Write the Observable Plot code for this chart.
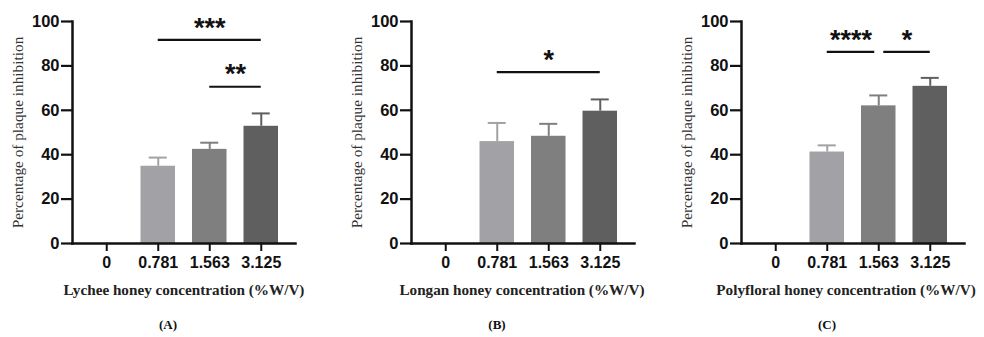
<!DOCTYPE html>
<html>
<head>
<meta charset="utf-8">
<script src="https://cdn.jsdelivr.net/npm/d3@7"></script>
<script src="https://cdn.jsdelivr.net/npm/@observablehq/plot@0.6"></script>
<style>
  html, body { margin: 0; padding: 0; background: #fff; }
  #wrap { position: relative; width: 984px; height: 337px; overflow: hidden; background: #fff; }
  .panel { position: absolute; top: 0; }
  .panel svg { display: block; }
  .xlab { position: absolute; white-space: nowrap; transform: translate(-50%, -50%);
          font-family: "Liberation Serif", "Times New Roman", serif; font-weight: bold; font-size: 15.2px; color: #222; }
  .cap { position: absolute; white-space: nowrap; transform: translate(-50%, -50%);
         font-family: "Liberation Serif", "Times New Roman", serif; font-weight: bold; font-size: 13px; color: #111; }
</style>
</head>
<body>
<div id="wrap"></div>
<script>
// ---- data ----
const categories = ["0", "0.781", "1.563", "3.125"];
const yTicks = [0, 20, 40, 60, 80, 100];
const barColors = ["#ffffff", "#a2a2a6", "#7f7f7f", "#5f5f5f"];

const lycheeMean = [0, 34.8, 42.4, 52.8];
const lycheeErr  = [0, 3.9, 3.0, 5.8];
const longanMean = [0, 45.9, 48.3, 59.6];
const longanErr  = [0, 8.4, 5.6, 5.3];
const polyMean   = [0, 41.2, 62.0, 70.8];
const polyErr    = [0, 3.0, 4.7, 3.8];

const lycheeSig = [
  {from: "0.781", to: "3.125", y: 91.7, label: "***", gapL: 0, gapR: 0},
  {from: "1.563", to: "3.125", y: 70.6, label: "**", gapL: 0, gapR: 0}
];
const longanSig = [
  {from: "0.781", to: "3.125", y: 77.2, label: "*", gapL: 0, gapR: 0}
];
const polySig = [
  {from: "0.781", to: "1.563", y: 86.3, label: "****", gapL: 0, gapR: 4},
  {from: "1.563", to: "3.125", y: 86.3, label: "*", gapL: 5, gapR: 0}
];

const yLabel = "Percentage of plaque inhibition";
const xLabels = ["Lychee honey concentration (%W/V)", "Longan honey concentration (%W/V)", "Polyfloral honey concentration (%W/V)"];
const captions = ["(A)", "(B)", "(C)"];

// ---- layout ----
const panels = [
  {mean: lycheeMean, err: lycheeErr, sig: lycheeSig, left: 0,   xlabCenter: 184, capCenter: 168},
  {mean: longanMean, err: longanErr, sig: longanSig, left: 339, xlabCenter: 522, capCenter: 497},
  {mean: polyMean,   err: polyErr,   sig: polySig,   left: 669, xlabCenter: 846, capCenter: 827}
];

const W = 310, H = 275, mL = 72, mR = 15, mT = 21, mB = 32;
const padIn = 0.33, padOut = 0.33;
const plotW = W - mL - mR;
const step = plotW / (categories.length - padIn + 2 * padOut);
const halfBand = step * (1 - padIn) / 2;
const tickFont = "'Liberation Sans', Arial, sans-serif";

const wrap = document.getElementById("wrap");

panels.forEach((p, k) => {
  const data = categories.map((c, i) => ({conc: c, mean: p.mean[i], err: p.err[i]}));
  const withBars = data.filter(d => d.mean > 0);

  const sigMarks = [];
  p.sig.forEach(s => {
    sigMarks.push(Plot.ruleY([s], {
      x1: "from", x2: "to", y: "y",
      stroke: "#111", strokeWidth: 2.2,
      insetLeft: halfBand + s.gapL, insetRight: halfBand + s.gapR
    }));
    const i1 = categories.indexOf(s.from), i2 = categories.indexOf(s.to);
    const mid = (i1 + i2) / 2;
    const base = Math.floor(mid);
    sigMarks.push(Plot.text([s], {
      x: () => categories[base], y: "y", text: "label",
      dx: (mid - base) * step + (s.gapL - s.gapR) / 2, dy: -12,
      fontFamily: tickFont, fontWeight: "bold", fontSize: 27, fill: "#111",
      letterSpacing: "1px", lineAnchor: "middle"
    }));
  });

  const chart = Plot.plot({
    width: W, height: H,
    marginLeft: mL, marginRight: mR, marginTop: mT, marginBottom: mB,
    style: {background: "transparent", overflow: "visible"},
    x: {type: "band", domain: categories, paddingInner: padIn, paddingOuter: padOut, round: false, axis: null},
    y: {domain: [0, 100], axis: null},
    color: {domain: categories, range: barColors},
    marks: [
      Plot.barY(withBars, {x: "conc", y: "mean", fill: "conc"}),
      Plot.ruleX(withBars, {x: "conc", y1: "mean", y2: d => d.mean + d.err, stroke: "conc", strokeWidth: 2}),
      Plot.tickY(withBars, {x: "conc", y: d => d.mean + d.err, stroke: "conc", strokeWidth: 2, inset: halfBand - 9}),
      Plot.axisY({ticks: yTicks, tickSize: 11, tickPadding: 2, strokeWidth: 2.2, stroke: "#111",
                  fontFamily: tickFont, fontWeight: "bold", fontSize: 16.5, fill: "#111", label: null}),
      Plot.axisX({tickSize: 8, tickPadding: 5, strokeWidth: 2, stroke: "#111",
                  fontFamily: tickFont, fontWeight: "bold", fontSize: 16, fill: "#111", label: null}),
      Plot.frame({anchor: "left", stroke: "#111", strokeWidth: 2.5}),
      Plot.frame({anchor: "bottom", stroke: "#111", strokeWidth: 2.5}),
      Plot.text([yLabel], {frameAnchor: "left", rotate: -90, dx: -54, text: d => d, textAnchor: "middle",
                  fontFamily: "'Liberation Serif', 'Times New Roman', serif", fontSize: 15.3, fill: "#333"}),
      ...sigMarks
    ]
  });

  const div = document.createElement("div");
  div.className = "panel";
  div.style.left = p.left + "px";
  div.appendChild(chart);
  wrap.appendChild(div);

  const xl = document.createElement("div");
  xl.className = "xlab";
  xl.textContent = xLabels[k];
  xl.style.left = p.xlabCenter + "px";
  xl.style.top = "290px";
  wrap.appendChild(xl);

  const cp = document.createElement("div");
  cp.className = "cap";
  cp.textContent = captions[k];
  cp.style.left = p.capCenter + "px";
  cp.style.top = "325px";
  wrap.appendChild(cp);
});
</script>
</body>
</html>
